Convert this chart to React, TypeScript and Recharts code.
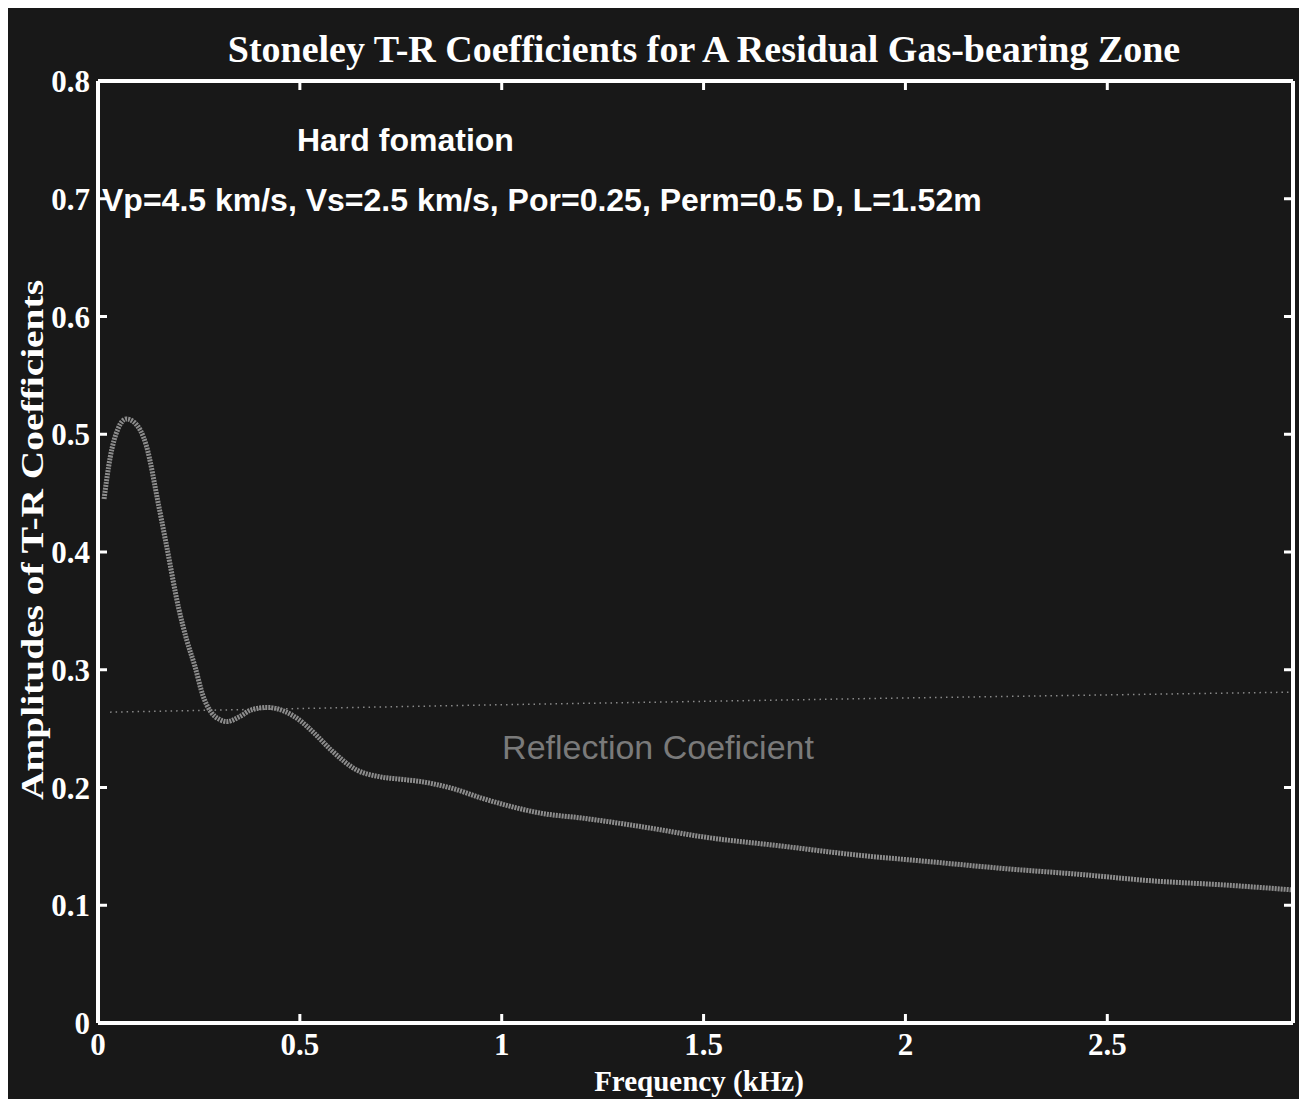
import { LineChart, Line, XAxis, YAxis } from "recharts";

// frequency (kHz) and amplitude of the transmission curve
const freq = [
  0.015, 0.03, 0.05, 0.07, 0.09, 0.12, 0.15, 0.17, 0.2, 0.22, 0.24, 0.26, 0.28,
  0.3, 0.32, 0.35, 0.38, 0.42, 0.46, 0.5, 0.53, 0.58, 0.64, 0.7, 0.75, 0.8,
  0.88, 0.95, 1.0, 1.1, 1.2, 1.36, 1.5, 1.7, 1.87, 2.06, 2.25, 2.44, 2.6, 2.8,
  2.96,
];
const transmission = [
  0.445, 0.48, 0.505, 0.513, 0.51, 0.49, 0.44, 0.405, 0.352, 0.325, 0.303,
  0.278, 0.264, 0.258, 0.256, 0.26, 0.266, 0.268, 0.265, 0.257, 0.248, 0.231,
  0.215, 0.209, 0.207, 0.205, 0.199, 0.191, 0.186, 0.178, 0.174, 0.166, 0.158,
  0.15, 0.143, 0.137, 0.131, 0.126, 0.121, 0.117, 0.113,
];

// reflection coefficient (faint dotted line)
const refFreq = [0.03, 0.95, 1.99, 2.96];
const reflection = [0.264, 0.27, 0.276, 0.281];

const xTicks = [0, 0.5, 1, 1.5, 2, 2.5];
const yTicks = [0, 0.1, 0.2, 0.3, 0.4, 0.5, 0.6, 0.7, 0.8];

const transData = freq.map((f, i) => ({ f, v: transmission[i] }));
const refData = refFreq.map((f, i) => ({ f, v: reflection[i] }));

const W = 1299;
const H = 1091;
const serif = "'Liberation Serif', 'Times New Roman', serif";
const sans = "'Liberation Sans', Arial, sans-serif";
const axisStyle = { stroke: "#fff", strokeWidth: 4 };
const tickStyle = { stroke: "#fff", strokeWidth: 3 };
const tickFont = { fill: "#fff", fontFamily: serif, fontWeight: 700, fontSize: 31 };
const blank = () => "";

// axis that only draws inward tick marks (MATLAB-style box)
const xTickOnly = (id: string, orientation: "top" | "bottom") => (
  <XAxis
    key={id}
    xAxisId={id}
    orientation={orientation}
    dataKey="f"
    type="number"
    domain={[0, 2.96]}
    ticks={xTicks}
    allowDataOverflow
    height={1}
    mirror
    axisLine={axisStyle}
    tickLine={tickStyle}
    tickSize={9}
    tickFormatter={blank}
  />
);
const yTickOnly = (id: string, orientation: "left" | "right") => (
  <YAxis
    key={id}
    yAxisId={id}
    orientation={orientation}
    type="number"
    domain={[0, 0.8]}
    ticks={yTicks}
    allowDataOverflow
    width={1}
    mirror
    axisLine={axisStyle}
    tickLine={tickStyle}
    tickSize={9}
    tickFormatter={blank}
  />
);

export default function App() {
  return (
    <div style={{ width: W, height: H, background: "#181818" }}>
      <LineChart
        width={W}
        height={H}
        margin={{ top: 73, right: 14, left: 89, bottom: 75 }}
      >
        <XAxis
          xAxisId="b"
          dataKey="f"
          type="number"
          domain={[0, 2.96]}
          ticks={xTicks}
          allowDataOverflow
          height={1}
          axisLine={axisStyle}
          tickLine={false}
          tickMargin={4}
          tick={tickFont}
        />
        {xTickOnly("bt", "bottom")}
        {xTickOnly("t", "top")}
        <YAxis
          yAxisId="l"
          type="number"
          domain={[0, 0.8]}
          ticks={yTicks}
          allowDataOverflow
          width={1}
          axisLine={axisStyle}
          tickLine={false}
          tickMargin={2}
          tick={tickFont}
        />
        {yTickOnly("lt", "left")}
        {yTickOnly("r", "right")}
        <Line
          xAxisId="b"
          yAxisId="l"
          data={refData}
          dataKey="v"
          stroke="#8a8a8a"
          strokeWidth={1.5}
          strokeDasharray="1.5 4"
          dot={false}
          isAnimationActive={false}
        />
        <Line
          xAxisId="b"
          yAxisId="l"
          data={transData}
          dataKey="v"
          type="monotone"
          stroke="#8c8c8c"
          strokeWidth={5}
          strokeDasharray="2 1"
          dot={false}
          isAnimationActive={false}
        />
        <text x={696} y={54} textAnchor="middle" fill="#fff" fontFamily={serif} fontWeight={700} fontSize={38}>
          Stoneley T-R Coefficients for A Residual Gas-bearing Zone
        </text>
        <text x={289} y={143} fill="#fff" fontFamily={sans} fontWeight={700} fontSize={32}>
          Hard fomation
        </text>
        <text x={94} y={203} fill="#fff" fontFamily={sans} fontWeight={700} fontSize={32}>
          Vp=4.5 km/s, Vs=2.5 km/s, Por=0.25, Perm=0.5 D, L=1.52m
        </text>
        <text x={650} y={751} textAnchor="middle" fill="#7a7a7a" fontFamily={sans} fontSize={34}>
          Reflection Coeficient
        </text>
        <text x={691} y={1083} textAnchor="middle" fill="#fff" fontFamily={serif} fontWeight={700} fontSize={29}>
          Frequency (kHz)
        </text>
        <text
          x={35}
          y={532}
          textAnchor="middle"
          transform="rotate(-90 35 532)"
          fill="#fff"
          fontFamily={serif}
          fontWeight={700}
          fontSize={31}
          textLength={520}
          lengthAdjust="spacingAndGlyphs"
        >
          Amplitudes of T-R Coefficients
        </text>
      </LineChart>
    </div>
  );
}
